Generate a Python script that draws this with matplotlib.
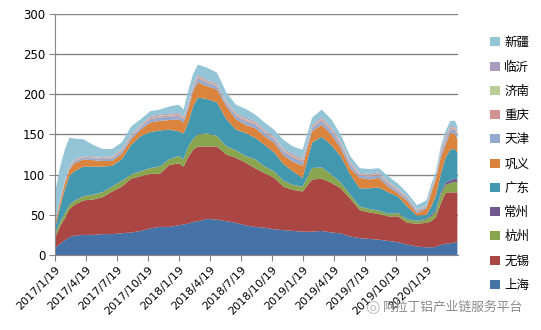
#!/usr/bin/env python3
import datetime as dt

import matplotlib

matplotlib.use("Agg")
import matplotlib.pyplot as plt
from matplotlib.patches import Patch

plt.rcParams["font.family"] = ["DejaVu Sans", "Noto Sans CJK SC"]

# weekly (Thursday) sample dates
dates = [
    "2017-01-19", "2017-02-02", "2017-02-16", "2017-03-02", "2017-03-16", "2017-04-13",
    "2017-05-11", "2017-06-08", "2017-07-06", "2017-08-03", "2017-08-31", "2017-09-28",
    "2017-10-26", "2017-11-23", "2017-12-21", "2018-01-18", "2018-02-01", "2018-02-15",
    "2018-03-01", "2018-03-15", "2018-04-12", "2018-05-10", "2018-06-07", "2018-07-05",
    "2018-08-02", "2018-08-30", "2018-09-27", "2018-10-25", "2018-11-22", "2018-12-20",
    "2019-01-17", "2019-02-14", "2019-03-14", "2019-04-11", "2019-05-09", "2019-06-06",
    "2019-07-04", "2019-08-01", "2019-08-29", "2019-09-26", "2019-10-24", "2019-11-21",
    "2019-12-19", "2020-01-16", "2020-01-30", "2020-02-13", "2020-02-27", "2020-03-12",
    "2020-03-26", "2020-04-09", "2020-04-16",
]

shanghai = [8, 14, 18, 22, 24, 25, 25, 26, 26, 27, 28, 30, 33, 35, 35, 37, 38, 39, 41, 42,
            45, 44, 42, 40, 37, 35, 34, 32, 31, 30, 29, 29, 30, 28, 27, 23, 21, 20, 19, 17.5,
            16, 13, 10.5, 9.6, 9.6, 10, 12.5, 14, 14.6, 15.4, 16.7]
wuxi = [13, 21, 27, 35, 38, 43, 44, 46, 53, 58, 67, 68, 68, 66, 77, 77, 72, 83, 90, 93,
        90, 91, 83, 81, 78, 73, 68, 64, 54, 51, 50, 65, 65, 62, 56, 47, 35, 33, 32, 30.5,
        32, 27, 28.5, 30.4, 32.4, 37, 51.5, 63, 63.4, 62.6, 61.3]
hangzhou = [5, 5, 6, 5, 5, 5, 6, 6, 6, 7, 5, 6, 7, 9, 7, 9, 9, 13, 13, 15,
            16, 13, 10, 9, 8, 11, 8, 8, 7, 6, 6, 14, 14, 10, 7, 5, 4, 4, 4, 3,
            4, 4, 3, 4, 6, 7, 11, 10, 11.6, 13, 12]
changzhou = [0.3] * 40 + [0.5, 0.5, 0.5, 1, 1.5, 2, 2.5, 3, 3.5, 4, 4]
guangdong = [6.7, 17.7, 28.7, 35.7, 36.7, 36.7, 34.7, 31.7, 25.7, 26.7, 36.7, 43.7, 44.7,
             44.7, 36.7, 30.7, 31.7, 29.7, 40.7, 45.7, 42.7, 41.7, 33.7, 25.7, 28.7, 26.7,
             26.7, 23.7, 20.7, 16.7, 10.7, 31.7, 37.7, 36.7, 32.7, 24.7, 22.7, 25.7, 28.7,
             26.7, 20.5, 15.5, 6.5, 5, 10.5, 18, 22.5, 31, 37.9, 37, 33]
gongyi = [6, 6, 8, 8, 10, 9, 8, 7, 6, 7, 7, 8, 12, 12, 12, 15, 14, 17, 19, 19,
          16, 16, 16, 13, 10, 12, 11, 12, 11, 12, 15, 14, 15, 13, 10, 8, 13, 11, 12, 7,
          4, 7, 3, 8, 17, 21, 21, 16, 21, 19, 17]
tianjin = [1, 1.5, 2, 2.5, 2.5, 2, 2.5, 2.5, 3, 3, 3, 3, 4, 4, 4, 4, 4, 4.5, 4, 5,
           4, 4, 3.5, 4, 4.5, 4.5, 4, 4, 4, 5, 5, 4, 5, 5, 4.5, 4.5, 3, 3.5, 3.5, 3.5,
           3, 3, 2.5, 2, 3, 2.5, 5, 5.5, 4.5, 4.5, 5.5]
chongqing = [0.4, 0.6, 0.8, 1, 1, 0.8, 1, 1, 1.2, 1.2, 1.2, 1.2, 1.6, 1.6, 1.6, 1.6, 1.6,
             1.8, 1.6, 2, 1.6, 1.6, 1.4, 1.6, 1.8, 1.8, 1.6, 1.6, 1.6, 2, 2, 1.6, 2, 2,
             1.8, 1.8, 1.2, 1.4, 1.4, 1.4, 1.2, 1.2, 1, 0.8, 1.2, 1, 2, 2.2, 1.8, 1.8, 2.2]
jinan = [0.2, 0.3, 0.4, 0.5, 0.5, 0.4, 0.5, 0.5, 0.6, 0.6, 0.6, 0.6, 0.8, 0.8, 0.8, 0.8,
         0.8, 0.9, 0.8, 1, 0.8, 0.8, 0.7, 0.8, 0.9, 0.9, 0.8, 0.8, 0.8, 1, 1, 0.8, 1, 1,
         0.9, 0.9, 0.6, 0.7, 0.7, 0.7, 0.6, 0.6, 0.5, 0.4, 0.6, 0.5, 1, 1.1, 0.9, 0.9, 1.1]
linyi = [0.4, 0.6, 0.8, 1, 1, 0.8, 1, 1, 1.2, 1.2, 1.2, 1.2, 1.6, 1.6, 1.6, 1.6, 1.6,
         1.8, 1.6, 2, 1.6, 1.6, 1.4, 1.6, 1.8, 1.8, 1.6, 1.6, 1.6, 2, 2, 1.6, 2, 2,
         1.8, 1.8, 1.2, 1.4, 1.4, 1.4, 1.2, 1.2, 1, 0.8, 1.2, 1, 2, 2.2, 1.8, 1.8, 2.2]
xinjiang = [36, 41, 38, 35, 26, 21, 14, 10, 9, 8, 10, 7, 6, 6, 9, 10, 8, 14, 13, 12,
            15, 13, 10, 10, 11, 8, 9, 8, 11, 9, 10, 9, 9, 9, 8, 6, 6, 6, 5, 6,
            6, 4, 5, 6, 5, 4, 4, 6, 6, 7, 5]

labels = ["上海", "无锡", "杭州", "常州", "广东", "巩义", "天津", "重庆", "济南", "临沂", "新疆"]
colors = ["#4572A7", "#AA4643", "#89A54E", "#71588F", "#4198AF", "#DB843D",
          "#93A9CF", "#D19392", "#B9CD96", "#A99BBD", "#93C5D7"]
tick_dates = ["2017-01-19", "2017-04-19", "2017-07-19", "2017-10-19", "2018-01-19",
              "2018-04-19", "2018-07-19", "2018-10-19", "2019-01-19", "2019-04-19",
              "2019-07-19", "2019-10-19", "2020-01-19"]


def main() -> None:
    x = [dt.datetime.strptime(d, "%Y-%m-%d") for d in dates]
    series = [shanghai, wuxi, hangzhou, changzhou, guangdong, gongyi,
              tianjin, chongqing, jinan, linyi, xinjiang]

    fig = plt.figure(figsize=(5.41, 3.30), dpi=100)
    ax = fig.add_axes([0.1017, 0.2273, 0.745, 0.7303])
    ax.stackplot(x, *series, colors=colors, linewidth=0, zorder=2)

    ax.set_ylim(0, 300)
    ax.set_yticks(range(0, 301, 50))
    ax.set_xlim(x[0], dt.datetime(2020, 4, 18))
    ticks = [dt.datetime.strptime(d, "%Y-%m-%d") for d in tick_dates]
    ax.set_xticks(ticks)
    ax.set_xticklabels([f"{t.year}/{t.month}/{t.day}" for t in ticks],
                       rotation=45, ha="right", rotation_mode="anchor", fontsize=8)
    ax.tick_params(axis="y", labelsize=8.5, length=4, color="#868686", pad=3)
    ax.tick_params(axis="x", length=4, color="#868686", pad=3)
    ax.grid(axis="y", color="#868686", linewidth=1, zorder=1)
    ax.set_axisbelow(True)
    for side in ["top", "right"]:
        ax.spines[side].set_visible(False)
    for side in ["left", "bottom"]:
        ax.spines[side].set_color("#868686")
        ax.spines[side].set_zorder(3)

    handles = [Patch(facecolor=c, edgecolor="none") for c in colors][::-1]
    fig.legend(handles, labels[::-1], loc="center left", bbox_to_anchor=(0.895, 0.503),
               frameon=False, handlelength=0.75, handleheight=0.75,
               handletextpad=0.35, labelspacing=0.9, borderpad=0,
               prop={"family": ["Noto Sans CJK SC"], "size": 9})

    fig.text(0.688, 0.07, "◎", color="#bbbbbb", fontsize=12, ha="center", va="center",
             family=["DejaVu Sans"])
    fig.text(0.707, 0.07, "阿拉丁铝产业链服务平台", color="#8c8c8c", fontsize=9.2,
             ha="left", va="center", family=["Noto Sans CJK SC"])

    fig.savefig("out.png", dpi=100)
    plt.close(fig)


if __name__ == "__main__":
    main()
